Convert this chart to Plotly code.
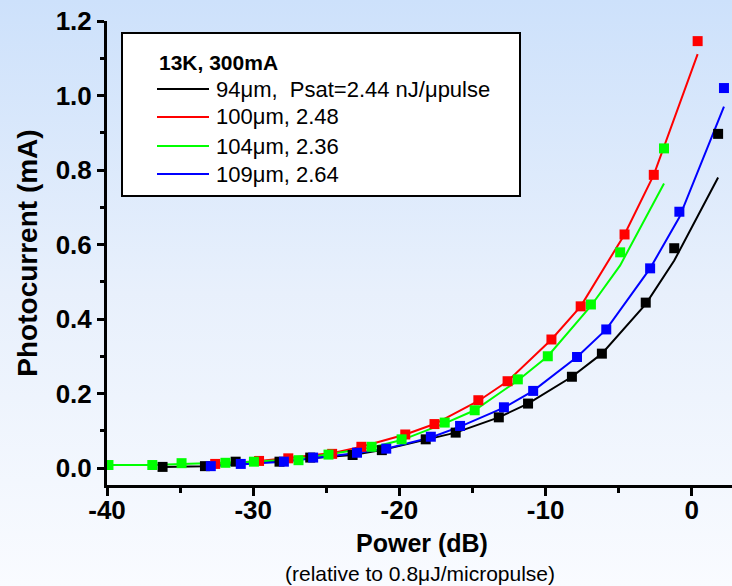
import base64
import plotly.graph_objects as go

# ---------------- data ----------------
black_x = [-36.2, -33.3, -31.2, -28.2, -26.1, -23.2, -21.2, -18.2, -16.15, -13.2, -11.2, -8.2, -6.15, -3.15, -1.2, 1.8]
black_y = [0.003, 0.005, 0.017, 0.017, 0.028, 0.035, 0.048, 0.077, 0.095, 0.136, 0.173, 0.245, 0.307, 0.444, 0.590, 0.897]
black_fit = [0.003, 0.005, 0.012, 0.018, 0.026, 0.035, 0.048, 0.075, 0.095, 0.136, 0.173, 0.245, 0.307, 0.440, 0.557, 0.780]

red_x = [-32.6, -29.6, -27.6, -24.6, -22.6, -19.6, -17.6, -14.6, -12.6, -9.6, -7.6, -4.6, -2.6, 0.4]
red_y = [0.011, 0.019, 0.026, 0.038, 0.057, 0.090, 0.118, 0.182, 0.233, 0.345, 0.434, 0.627, 0.787, 1.146]
red_fit = [0.011, 0.019, 0.027, 0.040, 0.057, 0.090, 0.118, 0.180, 0.233, 0.345, 0.434, 0.627, 0.787, 1.111]

green_x = [-39.9, -36.9, -34.9, -31.9, -29.95, -26.9, -24.85, -21.9, -19.85, -16.9, -14.85, -11.9, -9.85, -6.9, -4.9, -1.9]
green_y = [0.008, 0.008, 0.013, 0.014, 0.017, 0.021, 0.036, 0.057, 0.077, 0.122, 0.155, 0.238, 0.300, 0.439, 0.579, 0.858]
green_fit = [0.008, 0.008, 0.011, 0.014, 0.017, 0.024, 0.036, 0.055, 0.075, 0.120, 0.155, 0.235, 0.300, 0.435, 0.544, 0.764]

blue_x = [-32.9, -30.85, -27.9, -25.9, -22.9, -20.9, -17.85, -15.85, -12.85, -10.85, -7.85, -5.85, -2.85, -0.85, 2.2]
blue_y = [0.005, 0.011, 0.017, 0.028, 0.041, 0.052, 0.084, 0.113, 0.163, 0.207, 0.298, 0.372, 0.536, 0.688, 1.020]
blue_fit = [0.005, 0.010, 0.017, 0.026, 0.040, 0.052, 0.082, 0.111, 0.162, 0.207, 0.298, 0.372, 0.536, 0.673, 0.970]

x_tickvals = [-40, -30, -20, -10, 0]
x_ticklabels = ["-40", "-30", "-20", "-10", "0"]
y_tickvals = [0.0, 0.2, 0.4, 0.6, 0.8, 1.0, 1.2]
y_ticklabels = ["0.0", "0.2", "0.4", "0.6", "0.8", "1.0", "1.2"]

legend_title = "13K, 300mA"
legend_labels = ["94μm,\u00a0\u00a0Psat=2.44 nJ/μpulse", "100μm, 2.48", "104μm, 2.36", "109μm, 2.64"]
series_colors = ["#000000", "#ff0000", "#00ff00", "#0000ff"]

x_title = "Power (dB)"
x_subtitle = "(relative to 0.8μJ/micropulse)"
y_title = "Photocurrent (mA)"

# ---------------- geometry ----------------
W, H = 732, 586
ML, MR, MT, MB = 107, 0, 21, 101
PW, PH = W - ML - MR, H - MT - MB


def px(xp):
    return (xp - ML) / PW


def py(yp):
    return (H - MB - yp) / PH


FONT = "Liberation Sans, Arial, sans-serif"

fig = go.Figure()

series = [
    (black_x, black_y, black_fit),
    (red_x, red_y, red_fit),
    (green_x, green_y, green_fit),
    (blue_x, blue_y, blue_fit),
]
for (sx, sy, sf), col, lab in zip(series, series_colors, legend_labels):
    fig.add_trace(go.Scatter(x=sx, y=sf, mode="lines", line=dict(color=col, width=2),
                             name=lab, showlegend=False, hoverinfo="skip"))
for (sx, sy, sf), col, lab in zip(series, series_colors, legend_labels):
    fig.add_trace(go.Scatter(x=sx, y=sy, mode="markers",
                             marker=dict(symbol="square", size=10, color=col, line=dict(width=0)),
                             name=lab, showlegend=False))

# gradient background
svg = ('<svg xmlns="http://www.w3.org/2000/svg" width="10" height="100" preserveAspectRatio="none">'
       '<defs><linearGradient id="g" x1="0" y1="0" x2="0" y2="1">'
       '<stop offset="0" stop-color="#cde1fb"/><stop offset="0.5" stop-color="#e8f0fc"/>'
       '<stop offset="1" stop-color="#f9fbff"/></linearGradient></defs>'
       '<rect width="10" height="100" fill="url(#g)"/></svg>')
src = "data:image/svg+xml;base64," + base64.b64encode(svg.encode()).decode()

shapes = [dict(type="rect", xref="paper", yref="paper", x0=px(122), x1=px(520), y0=py(33), y1=py(196),
               line=dict(color="black", width=2), fillcolor="white", layer="above")]
annotations = [dict(text="<b>" + legend_title + "</b>", xref="paper", yref="paper", x=px(157), y=py(62),
                    xanchor="left", yanchor="middle", showarrow=False,
                    font=dict(family=FONT, size=21, color="black"))]
rows = [89, 117, 146, 174]
for lab, col, r in zip(legend_labels, series_colors, rows):
    shapes.append(dict(type="line", xref="paper", yref="paper", x0=px(157), x1=px(209), y0=py(r), y1=py(r),
                       line=dict(color=col, width=2), layer="above"))
    annotations.append(dict(text=lab, xref="paper", yref="paper", x=px(214), y=py(r), xanchor="left",
                            yanchor="middle", showarrow=False, font=dict(family=FONT, size=22, color="black")))
annotations.append(dict(text="<b>" + x_title + "</b>", xref="paper", yref="paper", x=px(422), y=py(543),
                        xanchor="center", yanchor="middle", showarrow=False,
                        font=dict(family=FONT, size=25, color="black")))
annotations.append(dict(text=x_subtitle, xref="paper", yref="paper", x=px(420), y=py(573), xanchor="center",
                        yanchor="middle", showarrow=False, font=dict(family=FONT, size=21, color="black")))

tickfont = dict(family=FONT, size=26, color="black", weight="bold")

fig.update_layout(
    width=W, height=H,
    margin=dict(l=ML, r=MR, t=MT, b=MB, pad=0, autoexpand=False),
    paper_bgcolor="rgba(0,0,0,0)", plot_bgcolor="rgba(0,0,0,0)",
    showlegend=False,
    images=[dict(source=src, xref="paper", yref="paper", x=-ML / PW, y=1 + MT / PH,
                 sizex=W / PW, sizey=H / PH, sizing="stretch", xanchor="left", yanchor="top",
                 layer="below")],
    shapes=shapes,
    annotations=annotations,
    xaxis=dict(range=[-40, 2.75], tickmode="array", tickvals=x_tickvals, ticktext=x_ticklabels,
               ticks="outside", ticklen=8, tickwidth=3, automargin=False, ticklabelstandoff=-8,
               tickcolor="black", showline=True, linecolor="black", linewidth=3, showgrid=False,
               zeroline=False, tickfont=tickfont,
               minor=dict(dtick=5, tick0=0, ticks="outside", ticklen=5, tickwidth=3, tickcolor="black", showgrid=False)),
    yaxis=dict(range=[-0.0456, 1.2], tickmode="array", tickvals=y_tickvals, ticktext=y_ticklabels,
               ticks="outside", ticklen=7, automargin=False,
               tickwidth=3, tickcolor="black", showline=True, linecolor="black", linewidth=3, showgrid=False,
               zeroline=False, tickfont=tickfont,
               minor=dict(dtick=0.1, tick0=0, ticks="outside", ticklen=4, tickwidth=3, tickcolor="black", showgrid=False),
               title=dict(text="<b>" + y_title + "</b>", standoff=10,
                          font=dict(family=FONT, size=28, color="black"))),
    xaxis2=dict(overlaying="x", matches="x", side="top", anchor="y", showticklabels=False,
                tickmode="array", tickvals=x_tickvals, automargin=False,
                ticks="inside", ticklen=6, tickwidth=3, tickcolor="black", showline=True, linecolor="black",
                linewidth=3, showgrid=False, zeroline=False,
                minor=dict(dtick=5, tick0=0, ticks="inside", ticklen=4, tickwidth=3, tickcolor="black", showgrid=False)),
    yaxis2=dict(overlaying="y", matches="y", side="right", anchor="x", showticklabels=False,
                tickmode="array", tickvals=y_tickvals, automargin=False,
                ticks="inside", ticklen=6, tickwidth=3, tickcolor="black", showline=False, showgrid=False,
                zeroline=False,
                minor=dict(dtick=0.1, tick0=0, ticks="inside", ticklen=3, tickwidth=3, tickcolor="black", showgrid=False)),
)

fig.write_html("out.html", config={"displayModeBar": False},
               post_script="document.body.style.margin='0px';document.body.style.overflow='hidden';")
